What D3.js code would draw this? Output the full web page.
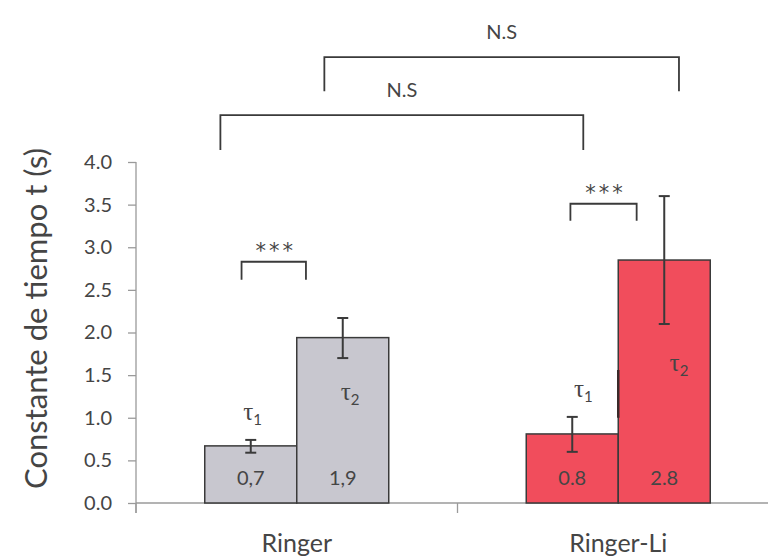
<!DOCTYPE html>
<html><head><meta charset="utf-8">
<script src="https://cdn.jsdelivr.net/npm/d3@7/dist/d3.min.js"></script>
<style>
html,body{margin:0;padding:0;background:#fff;}
svg{display:block;font-family:Lato,"DejaVu Sans",sans-serif;}
</style></head><body>
<svg id="c" width="768" height="559"></svg>
<script>
// ---- data ----
const groups = ["Ringer", "Ringer-Li"];
const series = ["τ1", "τ2"];
const means = { "Ringer": [0.67, 1.94], "Ringer-Li": [0.81, 2.85] };
const errLow = { "Ringer": [0.59, 1.70], "Ringer-Li": [0.60, 2.10] };
const errHigh = { "Ringer": [0.74, 2.17], "Ringer-Li": [1.01, 3.60] };
const valueLabels = { "Ringer": ["0,7", "1,9"], "Ringer-Li": ["0.8", "2.8"] };
const yTicks = [0, 0.5, 1, 1.5, 2, 2.5, 3, 3.5, 4];
const groupColors = { "Ringer": "#c8c7cf", "Ringer-Li": "#f14d5c" };

// significance annotations (value space)
const smallBrackets = [
  { g: "Ringer", label: "***", top: 2.83, bottom: 2.62, text: 3.06, a: [0, 0.4], b: [1, 0.1] },
  { g: "Ringer-Li", label: "***", top: 3.51, bottom: 3.31, text: 3.74, a: [0, 0.48], b: [1, 0.2] }
];
const bigBrackets = [
  { label: "N.S", top: 4.55, bottom: 4.14, text: 4.84, a: ["Ringer", 0, 0.17], b: ["Ringer-Li", 0, 0.62] },
  { label: "N.S", top: 5.23, bottom: 4.83, text: 5.53, a: ["Ringer", 1, 0.3], b: ["Ringer-Li", 1, 0.66] }
];
// tau label positions: [group, series, x-fraction, value]
const tauLabels = [
  ["Ringer", 0, 0.52, 0.97, "1"], ["Ringer", 1, 0.58, 1.21, "2"],
  ["Ringer-Li", 0, 0.62, 1.24, "1"], ["Ringer-Li", 1, 0.66, 1.55, "2"]
];

// ---- layout ----
const svg = d3.select("#c");
const y = d3.scaleLinear().domain([0, 4]).range([503, 162]);
const x0 = d3.scaleBand().domain(groups).range([136, 779]).paddingInner(0).paddingOuter(0);
const barW = 92;
const x1 = d3.scaleBand().domain([0, 1]).range([0, barW * 2]);
const bx = (g, i) => x0(g) + x0.bandwidth() / 2 - barW + x1(i);
const pos = (g, i, f) => bx(g, i) + f * x1.bandwidth();

const axisColor = "#9a9a9a";
const textColor = "#454545";

// y axis
const yAxis = d3.axisLeft(y).tickValues(yTicks).tickFormat(d3.format(".1f")).tickSize(8).tickPadding(16);
const ya = svg.append("g").attr("transform", "translate(136,0)").call(yAxis);
ya.select(".domain").attr("stroke", axisColor).attr("stroke-width", 1.3).attr("d", `M0,${y(4)}V${y(0)+10}`);
ya.selectAll(".tick line").attr("stroke", axisColor).attr("stroke-width", 1.3);
ya.selectAll(".tick text").attr("fill", textColor).style("font-size", "20px").style("font-family", "Lato, sans-serif");

// x axis
const xa = svg.append("g").attr("transform", `translate(0,${y(0)})`);
xa.append("line").attr("x1", 136).attr("x2", 768).attr("y1", 0).attr("y2", 0).attr("stroke", axisColor).attr("stroke-width", 1.3);
const bounds = [x0(groups[0]), x0(groups[1])];
xa.selectAll("line.tk").data(bounds).join("line").attr("class", "tk")
  .attr("x1", d => d).attr("x2", d => d).attr("y1", 0).attr("y2", 10)
  .attr("stroke", axisColor).attr("stroke-width", 1.3);
xa.selectAll("text.cat").data(groups).join("text").attr("class", "cat")
  .attr("x", d => x0(d) + x0.bandwidth() / 2).attr("y", 49)
  .attr("text-anchor", "middle").attr("fill", textColor).style("font-size", "25px").text(d => d);

// y title
svg.append("text").attr("transform", `translate(47,${(y(0) + y(4)) / 2 - 14}) rotate(-90)`)
  .attr("text-anchor", "middle").attr("fill", textColor).style("font-size", "31px")
  .text("Constante de tiempo t (s)");

// bars
const bars = [];
groups.forEach(g => series.forEach((s, i) => bars.push({ g, i, v: means[g][i], lo: errLow[g][i], hi: errHigh[g][i], lab: valueLabels[g][i] })));
svg.selectAll("rect.bar").data(bars).join("rect").attr("class", "bar")
  .attr("x", d => bx(d.g, d.i)).attr("width", x1.bandwidth())
  .attr("y", d => y(d.v)).attr("height", d => y(0) - y(d.v))
  .attr("fill", d => groupColors[d.g]).attr("stroke", "#3a3a3a").attr("stroke-width", 1.5);

// stray mark in original
svg.append("line").attr("x1", bx("Ringer-Li", 1)).attr("x2", bx("Ringer-Li", 1))
  .attr("y1", y(1.56)).attr("y2", y(1.0)).attr("stroke", "#3a2a2a").attr("stroke-width", 2.5);

// value labels
svg.selectAll("text.val").data(bars).join("text").attr("class", "val")
  .attr("x", d => bx(d.g, d.i) + x1.bandwidth() / 2).attr("y", y(0.29))
  .attr("dy", "0.35em").attr("text-anchor", "middle").attr("fill", textColor)
  .style("font-size", "20px").text(d => d.lab);

// error bars
const cap = 5.5;
const eb = svg.selectAll("g.err").data(bars).join("g").attr("class", "err")
  .attr("stroke", "#3a3a3a").attr("stroke-width", 2);
eb.append("line").attr("x1", d => pos(d.g, d.i, 0.5)).attr("x2", d => pos(d.g, d.i, 0.5))
  .attr("y1", d => y(d.lo)).attr("y2", d => y(d.hi));
eb.append("line").attr("x1", d => pos(d.g, d.i, 0.5) - cap).attr("x2", d => pos(d.g, d.i, 0.5) + cap)
  .attr("y1", d => y(d.lo)).attr("y2", d => y(d.lo));
eb.append("line").attr("x1", d => pos(d.g, d.i, 0.5) - cap).attr("x2", d => pos(d.g, d.i, 0.5) + cap)
  .attr("y1", d => y(d.hi)).attr("y2", d => y(d.hi));

// tau labels
const tl = svg.selectAll("text.tau").data(tauLabels).join("text").attr("class", "tau")
  .attr("x", d => pos(d[0], d[1], d[2])).attr("y", d => y(d[3]))
  .attr("text-anchor", "middle").attr("fill", textColor)
  .style("font-family", "'Liberation Serif', serif").style("font-size", "25px");
tl.append("tspan").text("τ");
tl.append("tspan").attr("dy", 5).style("font-size", "15px").style("font-family", "Lato, sans-serif").text(d => d[4]);

// small brackets
const bracket = (xa_, xb_, top, bottom) => `M${xa_},${y(bottom)}V${y(top)}H${xb_}V${y(bottom)}`;
smallBrackets.forEach(b => {
  const xa_ = pos(b.g, b.a[0], b.a[1]), xb_ = pos(b.g, b.b[0], b.b[1]);
  svg.append("path").attr("d", bracket(xa_, xb_, b.top, b.bottom))
    .attr("fill", "none").attr("stroke", "#3a3a3a").attr("stroke-width", 1.8);
  svg.append("text").attr("x", (xa_ + xb_) / 2 + 2).attr("y", y(b.text)).attr("dy", "0.75em")
    .attr("text-anchor", "middle").attr("fill", textColor)
    .style("font-family", "'DejaVu Sans', sans-serif").style("font-size", "21px")
    .style("letter-spacing", "3px").text(b.label);
});
bigBrackets.forEach(b => {
  const xa_ = pos(b.a[0], b.a[1], b.a[2]), xb_ = pos(b.b[0], b.b[1], b.b[2]);
  svg.append("path").attr("d", bracket(xa_, xb_, b.top, b.bottom))
    .attr("fill", "none").attr("stroke", "#3a3a3a").attr("stroke-width", 1.8);
  svg.append("text").attr("x", (xa_ + xb_) / 2).attr("y", y(b.text)).attr("dy", "0.35em")
    .attr("text-anchor", "middle").attr("fill", textColor).style("font-size", "20px").text(b.label);
});
</script>
</body></html>
